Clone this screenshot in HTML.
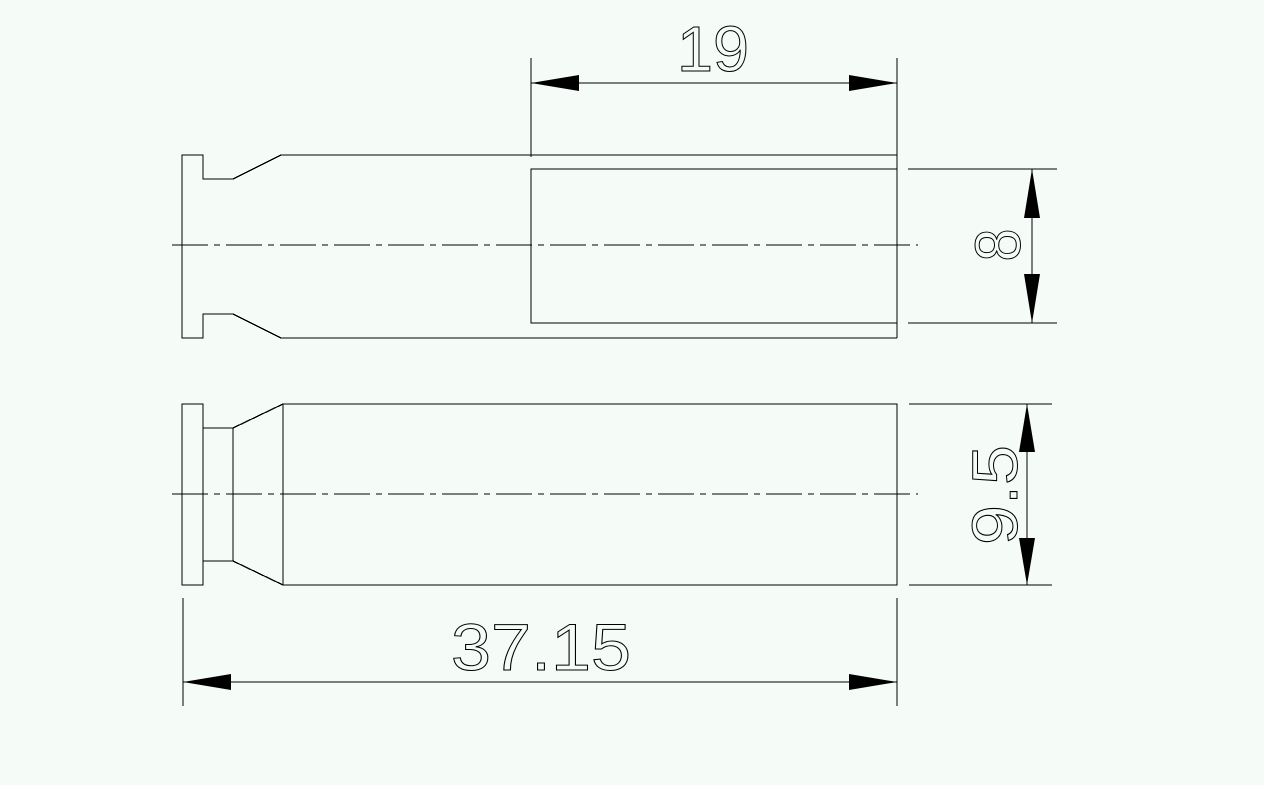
<!DOCTYPE html>
<html><head><meta charset="utf-8"><style>
html,body{margin:0;padding:0;background:#f5fbf7;}
svg{display:block}
text{font-family:"Liberation Sans",sans-serif;fill:none;stroke:#000;stroke-width:1;}
</style></head><body>
<svg width="1264" height="785" viewBox="0 0 1264 785" xmlns="http://www.w3.org/2000/svg">
<rect width="1264" height="785" fill="#f5fbf7"/>
<g stroke="#000" stroke-width="1.3" fill="none" shape-rendering="crispEdges">
<!-- top view -->
<polyline points="281,155 233,179 203,179 203,155 182,155 182,338 203,338 203,314 233,314 281,338 897,338"/>
<line x1="281" y1="155" x2="897" y2="155"/>
<line x1="897" y1="150" x2="897" y2="338" />
<polyline points="897,169 531,169 531,323 897,323"/>
<line x1="172" y1="245" x2="918" y2="245" stroke-dasharray="36,6,6,6"/>
<!-- dim 19 -->
<line x1="531" y1="58" x2="531" y2="157"/>
<line x1="897" y1="58" x2="897" y2="150"/>
<line x1="531" y1="83" x2="897" y2="83"/>
<!-- dim 8 -->
<line x1="908" y1="169" x2="1057" y2="169"/>
<line x1="908" y1="323" x2="1057" y2="323"/>
<line x1="1032" y1="169" x2="1032" y2="323"/>
<!-- bottom view -->
<rect x="182" y="404" width="21" height="181"/>
<rect x="203" y="428" width="30" height="133"/>
<polyline points="233,428 283,404 897,404 897,585 283,585 233,561"/>
<line x1="283" y1="404" x2="283" y2="585"/>
<line x1="172" y1="494" x2="918" y2="494" stroke-dasharray="36,6,6,6"/>
<!-- dim 9.5 -->
<line x1="909" y1="404" x2="1052" y2="404"/>
<line x1="909" y1="585" x2="1052" y2="585"/>
<line x1="1027" y1="404" x2="1027" y2="585"/>
<!-- dim 37.15 -->
<line x1="183" y1="598" x2="183" y2="706"/>
<line x1="897" y1="598" x2="897" y2="706"/>
<line x1="183" y1="682" x2="897" y2="682"/>
</g>
<g fill="#000">
<polygon points="531,83 579,75 579,91"/>
<polygon points="897,83 849,75 849,91"/>
<polygon points="1032,169 1024,218 1040,218"/>
<polygon points="1032,323 1024,274 1040,274"/>
<polygon points="1027,404 1019,452 1035,452"/>
<polygon points="1027,585 1019,538 1035,538"/>
<polygon points="183,682 231,674 231,690"/>
<polygon points="897,682 849,674 849,690"/>
</g>
<text x="677" y="71" font-size="64" textLength="72" lengthAdjust="spacingAndGlyphs">19</text>
<text x="451" y="670" font-size="66" textLength="180" lengthAdjust="spacingAndGlyphs">37.15</text>
<text transform="translate(1020,245) rotate(-90)" text-anchor="middle" font-size="64" textLength="33" lengthAdjust="spacingAndGlyphs" y="0">8</text>
<text transform="translate(1017,495) rotate(-90)" text-anchor="middle" font-size="64" textLength="100" lengthAdjust="spacingAndGlyphs">9.5</text>
</svg>
</body></html>
